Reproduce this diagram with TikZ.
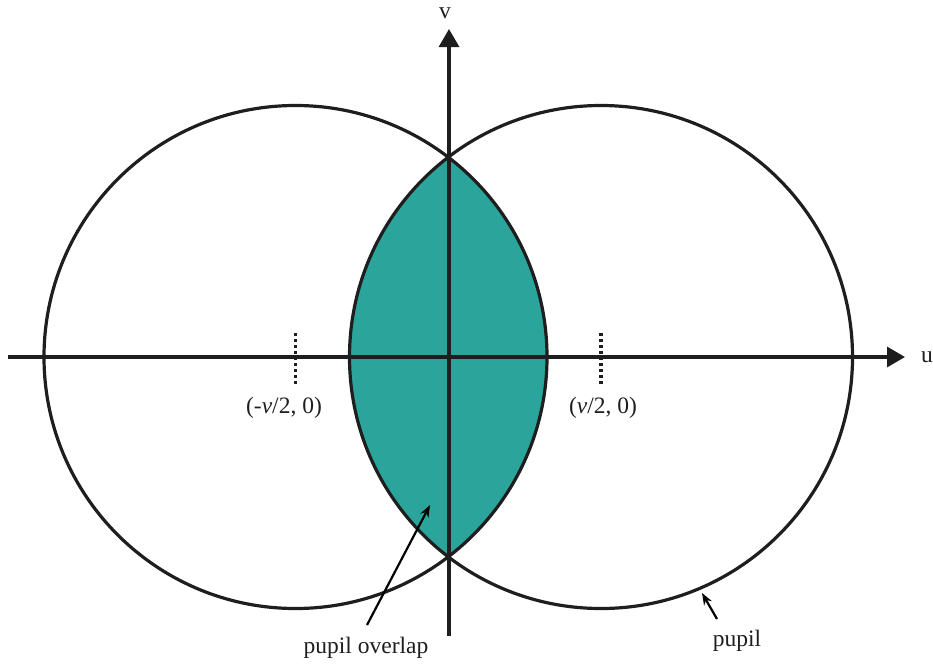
\documentclass[tikz,border=0pt]{standalone}
\usepackage{fontspec}
\setmainfont{Liberation Serif}
\usetikzlibrary{arrows.meta}
\definecolor{lens}{RGB}{43,165,155}
\definecolor{ink}{RGB}{30,30,30}
\tikzset{
  pupilcircle/.style={draw=ink, line width=3.2pt},
  axis/.style={draw=ink, line width=3.2pt, -{Triangle[length=18pt,width=20pt]}},
  tickmark/.style={draw=ink, line width=3.2pt, dash pattern=on 3pt off 3pt},
  lbl/.style={font=\fontsize{23.5}{26}\selectfont, text=ink, inner sep=1pt},
  pointer/.style={draw=black, line width=2.2pt, -{Stealth[length=12pt,width=9pt]}}
}
\begin{document}
\begin{tikzpicture}[x=1pt,y=-1pt]
\useasboundingbox (0,0) rectangle (933,664);
\coordinate (cl) at (295.5,357);
\coordinate (cr) at (601,357);
\coordinate (o) at (449,357);
% lens
\begin{scope}
  \clip (cl) circle (251.5);
  \fill[lens] (cr) circle (251.5);
\end{scope}
\draw[pupilcircle] (cl) circle (251.5);
\draw[pupilcircle] (cr) circle (251.5);
% axes
\coordinate (ustart) at (8,357);
\coordinate (uend) at (905,357);
\coordinate (vstart) at (449,636);
\coordinate (vend) at (449,29);
\draw[axis] (ustart) -- (uend);
\draw[axis] (vstart) -- (vend);
\node[lbl] (ulbl) at (927,357) {u};
\node[lbl] (vlbl) at (445,13) {v};
% ticks
\coordinate (tl1) at (295.5,333);
\coordinate (tl2) at (295.5,386);
\coordinate (tr1) at (601,333);
\coordinate (tr2) at (601,386);
\draw[tickmark] (tl1) -- (tl2);
\draw[tickmark] (tr1) -- (tr2);
\node[lbl] (pl) at (284,408) {(-\textit{ν}/2, 0)};
\node[lbl] (pr) at (603,408) {(\textit{ν}/2, 0)};
% pointers
\node[lbl] (ov) at (366,648) {pupil overlap};
\node[lbl] (pp) at (737,641) {pupil};
\coordinate (ovtail) at (367,625);
\coordinate (ovtip) at (430,505);
\coordinate (pptail) at (717,619);
\coordinate (pptip) at (702,593);
\draw[pointer] (ovtail) -- (ovtip);
\draw[pointer] (pptail) -- (pptip);
\end{tikzpicture}
\end{document}
